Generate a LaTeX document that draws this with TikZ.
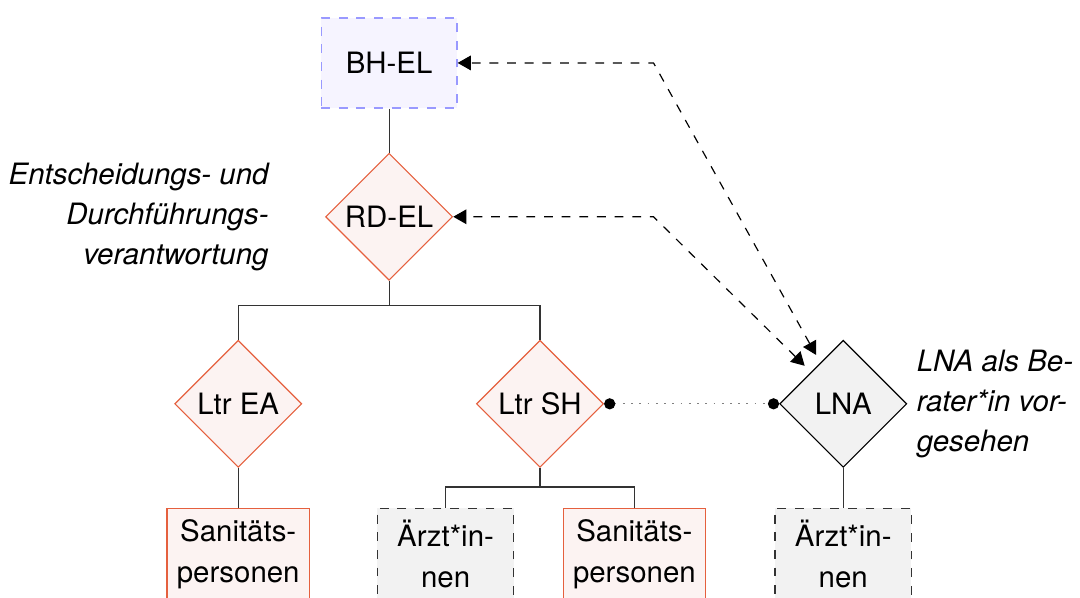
\documentclass[tikz,border=0pt]{standalone}
\usepackage{fontspec}
\setmainfont{TeX Gyre Heros}
\usepackage{tikz}
\usetikzlibrary{shapes.geometric,arrows.meta,positioning}
\definecolor{rdrot}{HTML}{E5603E}
\definecolor{rdrosa}{HTML}{FCF3F2}
\definecolor{bhblau}{HTML}{9999FF}
\definecolor{bhlila}{HTML}{F6F4FF}
\definecolor{lnagrau}{HTML}{F2F2F2}

\begin{document}
\begin{tikzpicture}[
    font=\fontsize{10pt}{14pt}\selectfont,
    leitung/.style={rectangle, draw=bhblau, dashed, fill=bhlila,
      minimum width=46.2pt, minimum height=30.6pt, align=center},
    raute/.style={diamond, draw=rdrot, fill=rdrosa, minimum width=43.2pt,
      minimum height=43.2pt, inner sep=1pt, align=center},
    berater/.style={raute, draw=black, fill=lnagrau},
    kraefte/.style={rectangle, draw=rdrot, fill=rdrosa, minimum width=46.4pt,
      minimum height=31pt, align=center},
    aerzte/.style={kraefte, draw=black!80, dashed, fill=lnagrau},
    hinweis/.style={font=\fontsize{10pt}{13.6pt}\selectfont\itshape, inner sep=0pt},
    linie/.style={-, draw=black!80},
    beratung/.style={{Triangle[length=4.5pt,width=5pt]}-{Triangle[length=4.5pt,width=5pt]},
      dashed, shorten <=3pt},
    kontakt/.style={{Circle[length=3.8pt,color=black]}-{Circle[length=3.8pt,color=black]},
      dash pattern=on 0.6pt off 2.2pt, draw=gray}
  ]
    \useasboundingbox (-132.3pt,-181.6pt) rectangle (234.9pt,21.4pt);
    \node[leitung] (bhel) {BH-EL};
    \node[raute, below=15pt of bhel] (rdel) {RD-EL};
    \draw[linie] (bhel) -- (rdel);
    \node[raute, below=20pt of rdel, xshift=-51.3pt] (ltrea) {Ltr EA};
    \node[raute, below=20pt of rdel, xshift=51.3pt] (ltrsh) {Ltr SH};
    \node[berater, right=59.5pt of ltrsh] (lna) {LNA};
    \draw[linie] (rdel.south) -- ++(0,-8.5pt) -| (ltrea.north);
    \draw[linie] (rdel.south) -- ++(0,-8.5pt) -| (ltrsh.north);
    \node[kraefte, below=13.5pt of ltrea] (san1) {Sanitäts-\\personen};
    \node[aerzte, below=13.5pt of ltrsh, xshift=-32.1pt] (aerzte1) {Ärzt*in-\\nen};
    \node[kraefte, below=13.5pt of ltrsh, xshift=32.1pt] (san2) {Sanitäts-\\personen};
    \node[aerzte, below=13.5pt of lna] (aerzte2) {Ärzt*in-\\nen};
    \draw[linie] (ltrea) -- (san1);
    \draw[linie] (ltrsh.south) -- ++(0,-6.5pt) -| (aerzte1.north);
    \draw[linie] (ltrsh.south) -- ++(0,-6.5pt) -| (san2.north);
    \draw[linie] (lna) -- (aerzte2);
    \draw[kontakt] (ltrsh) -- (lna);
    \coordinate[right=66.6pt of bhel.east] (knickbh);
    \coordinate (knickrd) at (knickbh |- rdel);
    \draw[beratung] (lna) -- (knickbh) -- (bhel);
    \draw[beratung] (lna) -- (knickrd) -- (rdel);
    \node[hinweis, left=19pt of rdel, align=right] (verantwortung)
      {Entscheidungs- und\\Durchführungs-\\verantwortung};
    \node[hinweis, right=3pt of lna, align=left] (beratervermerk)
      {LNA als Be-\\rater*in vor-\\gesehen};
  \end{tikzpicture}
\end{document}
